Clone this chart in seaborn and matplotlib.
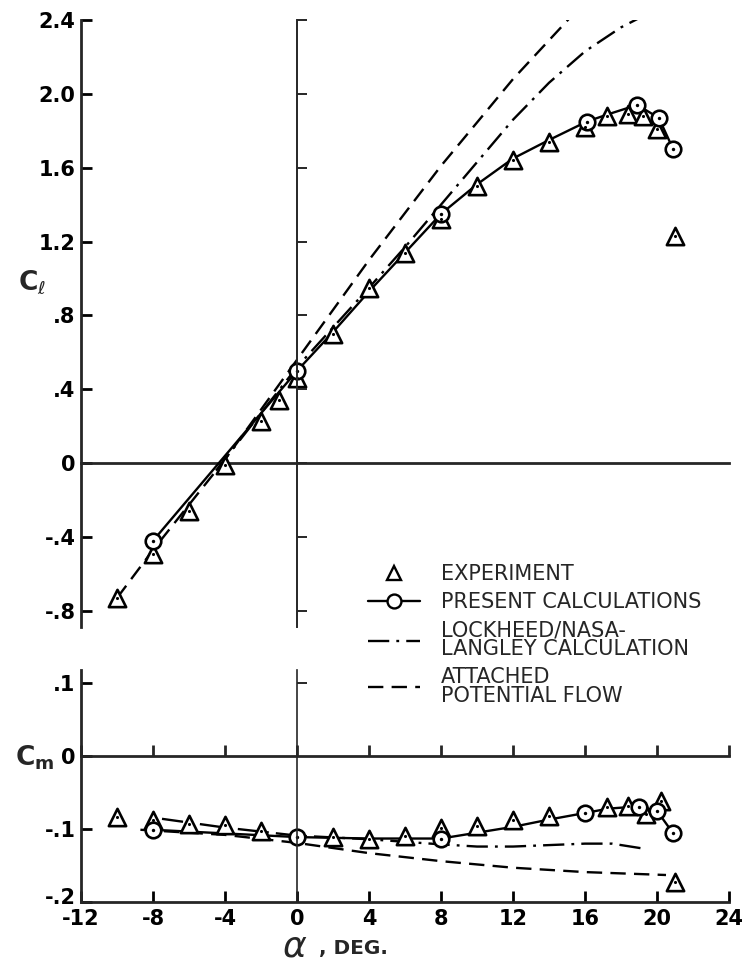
import matplotlib
matplotlib.use("Agg")
import matplotlib.pyplot as plt
import matplotlib.transforms as mtransforms
import seaborn as sns
from matplotlib.lines import Line2D

# ---------------- data ----------------
# Lift coefficient
exp_cl_alpha = [-10, -8, -6, -4, -2, -1, 0, 2, 4, 6, 8, 10, 12, 14, 16, 17.2, 18.4, 19.2, 20.0, 21.0]
exp_cl = [-0.73, -0.49, -0.26, -0.01, 0.23, 0.34, 0.46, 0.70, 0.95, 1.14, 1.32, 1.50, 1.64, 1.74, 1.82,
          1.88, 1.89, 1.88, 1.81, 1.23]

pres_cl_alpha = [-8, 0, 2, 4, 6, 8, 10, 12, 14, 16.1, 17.3, 18.9, 20.1, 20.9]
pres_cl = [-0.42, 0.50, 0.71, 0.93, 1.14, 1.35, 1.51, 1.65, 1.75, 1.85, 1.89, 1.94, 1.87, 1.70]
pres_cl_mark_alpha = [-8, 0, 8, 16.1, 18.9, 20.1, 20.9]
pres_cl_mark = [-0.42, 0.50, 1.35, 1.85, 1.94, 1.87, 1.70]

lock_cl_alpha = [-4.5, 0, 4, 6, 8, 10, 12, 14, 16, 18, 19.2]
lock_cl = [-0.04, 0.52, 0.95, 1.17, 1.40, 1.63, 1.86, 2.06, 2.23, 2.36, 2.42]

att_cl_alpha = [-10, -8, -4, 0, 4, 8, 12, 16]
att_cl = [-0.73, -0.47, 0.02, 0.56, 1.10, 1.61, 2.08, 2.50]

# Pitching-moment coefficient
exp_cm_alpha = [-10, -8, -6, -4, -2, 2, 4, 6, 8, 10, 12, 14, 17.2, 18.4, 19.4, 20.2, 21.0]
exp_cm = [-0.083, -0.087, -0.093, -0.095, -0.103, -0.111, -0.113, -0.110, -0.098, -0.096, -0.088,
          -0.082, -0.070, -0.068, -0.080, -0.061, -0.172]

pres_cm_alpha = [-8, 0, 4, 8, 10, 12, 14, 16, 17.3, 18.4, 19, 20, 20.9]
pres_cm = [-0.101, -0.111, -0.113, -0.113, -0.105, -0.097, -0.087, -0.078, -0.072, -0.070, -0.070,
           -0.075, -0.106]
pres_cm_mark_alpha = [-8, 0, 8, 16, 19, 20, 20.9]
pres_cm_mark = [-0.101, -0.111, -0.113, -0.078, -0.070, -0.075, -0.106]

lock_cm_alpha = [-7.5, -4, 0, 4, 8, 10, 12, 14, 16, 17.5, 19.3]
lock_cm = [-0.086, -0.098, -0.109, -0.114, -0.121, -0.124, -0.124, -0.122, -0.120, -0.120, -0.127]

att_cm_alpha = [-8.7, -4, 0, 4, 8, 12, 16, 20.5]
att_cm = [-0.101, -0.108, -0.119, -0.133, -0.144, -0.153, -0.159, -0.163]

# ticks / labels
x_ticks = [-12, -8, -4, 0, 4, 8, 12, 16, 20, 24]
x_ticklabels = ["-12", "-8", "-4", "0", "4", "8", "12", "16", "20", "24"]
cl_ticks = [-0.8, -0.4, 0, 0.4, 0.8, 1.2, 1.6, 2.0, 2.4]
cl_ticklabels = ["-.8", "-.4", "0", ".4", ".8", "1.2", "1.6", "2.0", "2.4"]
cm_ticks = [-0.2, -0.1, 0, 0.1]
cm_ticklabels = ["-.2", "-.1", "0", ".1"]

legend_labels = ["EXPERIMENT", "PRESENT CALCULATIONS", "LOCKHEED/NASA-\nLANGLEY CALCULATION",
                 "ATTACHED\nPOTENTIAL FLOW"]

# ---------------- style ----------------
sns.set_style("white")
plt.rcParams["font.family"] = ["DejaVu Sans"]
plt.rcParams["axes.unicode_minus"] = False

LW_AX = 2.0
LW_DATA = 1.7
DASH = (0, (6.5, 3.5))
DASHDOT = (0, (9, 3, 1.2, 3))
TICK_FONT = dict(fontsize=15, fontweight="bold")

fig = plt.figure(figsize=(7.43, 9.64), dpi=100)
W, H = 743.0, 964.0
ax1 = fig.add_axes([81 / W, 1 - 627 / H, 648 / W, 607 / H])
ax2 = fig.add_axes([81 / W, 1 - 902 / H, 648 / W, 232 / H])


def draw_curves(ax, ea, ev, pa, pv, pma, pmv, la, lv, aa, av):
    sns.lineplot(x=aa, y=av, ax=ax, color="black", lw=LW_DATA, linestyle=DASH,
                 sort=False, estimator=None, zorder=3)
    sns.lineplot(x=la, y=lv, ax=ax, color="black", lw=LW_DATA, linestyle=DASHDOT,
                 sort=False, estimator=None, zorder=3)
    sns.lineplot(x=pa, y=pv, ax=ax, color="black", lw=LW_DATA, linestyle="-",
                 sort=False, estimator=None, zorder=4)
    sns.scatterplot(x=ea, y=ev, ax=ax, marker="^", s=155, color="white",
                    edgecolor="black", linewidth=1.9, zorder=5)
    sns.scatterplot(x=pma, y=pmv, ax=ax, marker="o", s=125, color="white",
                    edgecolor="black", linewidth=1.9, zorder=6)
    sns.scatterplot(x=ea, y=ev, ax=ax, marker="o", s=5, color="black", linewidth=0, zorder=7)
    sns.scatterplot(x=pma, y=pmv, ax=ax, marker="o", s=6, color="black", linewidth=0, zorder=7)


draw_curves(ax1, exp_cl_alpha, exp_cl, pres_cl_alpha, pres_cl, pres_cl_mark_alpha, pres_cl_mark,
            lock_cl_alpha, lock_cl, att_cl_alpha, att_cl)
draw_curves(ax2, exp_cm_alpha, exp_cm, pres_cm_alpha, pres_cm, pres_cm_mark_alpha, pres_cm_mark,
            lock_cm_alpha, lock_cm, att_cm_alpha, att_cm)

# ---------------- upper axes (C_l) ----------------
ax1.set_xlim(-12, 24)
ax1.set_ylim(-0.887, 2.4)
for s in ["top", "right"]:
    ax1.spines[s].set_visible(False)
ax1.spines["left"].set_linewidth(LW_AX)
ax1.spines["bottom"].set_position(("data", 0))
ax1.spines["bottom"].set_linewidth(LW_AX)
ax1.set_xticks(x_ticks)
ax1.set_xticklabels([])
ax1.set_yticks(cl_ticks)
ax1.set_yticklabels(cl_ticklabels, **TICK_FONT)
ax1.tick_params(axis="both", direction="in", length=8, width=LW_AX, colors="black")
ax1.tick_params(axis="y", pad=4)
ax1.set_xlabel("")
ax1.set_ylabel(r"C$_{\ell}$", rotation=0, fontsize=19, fontweight="bold")
ax1.yaxis.set_label_coords(-0.075, 0.545)
ax1.grid(False)

# vertical line at alpha = 0 with ticks to the right
tw1 = ax1.twinx()
tw1.set_ylim(ax1.get_ylim())
for s in ["top", "left", "bottom"]:
    tw1.spines[s].set_visible(False)
tw1.spines["right"].set_position(("data", 0))
tw1.spines["right"].set_linewidth(1.4)
tw1.set_yticks(cl_ticks)
tw1.set_yticklabels([])
tw1.tick_params(axis="y", direction="out", length=7, width=1.4)
tw1.grid(False)

# ---------------- lower axes (C_m) ----------------
ax2.set_xlim(-12, 24)
ax2.set_ylim(-0.2, 0.118)
for s in ["top", "right"]:
    ax2.spines[s].set_visible(False)
ax2.spines["left"].set_linewidth(LW_AX)
ax2.spines["bottom"].set_linewidth(LW_AX)
ax2.set_xticks(x_ticks)
ax2.set_xticklabels(x_ticklabels, **TICK_FONT)
ax2.set_yticks(cm_ticks)
ax2.set_yticklabels(cm_ticklabels, **TICK_FONT)
ax2.tick_params(axis="both", direction="in", length=8, width=LW_AX, colors="black")
ax2.tick_params(axis="x", pad=5)
ax2.tick_params(axis="y", pad=4)
# nudge the lowest C_m label up a little so it clears the "-12" label
lowest = ax2.get_yticklabels()[0]
lowest.set_transform(lowest.get_transform()
                     + mtransforms.ScaledTranslation(0, 4 / 72, fig.dpi_scale_trans))
ax2.set_ylabel(r"C$_{\mathbf{m}}$", rotation=0, fontsize=19, fontweight="bold")
ax2.yaxis.set_label_coords(-0.072, 0.56)
ax2.set_xlabel(r"$\alpha$", fontsize=26)
ax2.xaxis.set_label_coords(0.33, -0.118)
ax2.grid(False)
ax2.annotate(", DEG.", xy=(1.0, 0.45), xycoords=ax2.xaxis.label, ha="left", va="center",
             fontsize=14.5, fontweight="bold", xytext=(8, 0), textcoords="offset points")

# zero line with upward ticks
tw2 = ax2.twiny()
tw2.set_xlim(ax2.get_xlim())
for s in ["bottom", "left", "right"]:
    tw2.spines[s].set_visible(False)
tw2.spines["top"].set_position(("data", 0))
tw2.spines["top"].set_linewidth(LW_AX)
tw2.set_xticks(x_ticks)
tw2.set_xticklabels([])
tw2.tick_params(axis="x", direction="out", length=8, width=LW_AX)
tw2.grid(False)

# vertical line at alpha = 0
tw3 = ax2.twinx()
tw3.set_ylim(ax2.get_ylim())
for s in ["top", "left", "bottom"]:
    tw3.spines[s].set_visible(False)
tw3.spines["right"].set_position(("data", 0))
tw3.spines["right"].set_linewidth(1.2)
tw3.set_yticks([0.1])
tw3.set_yticklabels([])
tw3.tick_params(axis="y", direction="out", length=7, width=1.4)
tw3.grid(False)

# ---------------- legend ----------------
handles = [
    Line2D([], [], linestyle="none", marker="^", markersize=10, mfc="white", mec="black", mew=1.7),
    Line2D([], [], color="black", lw=LW_DATA, marker="o", markersize=10, mfc="white",
           mec="black", mew=1.7),
    Line2D([], [], color="black", lw=LW_DATA, linestyle=DASHDOT),
    Line2D([], [], color="black", lw=LW_DATA, linestyle=DASH),
]
leg = fig.legend(handles, legend_labels, loc="upper left",
                 bbox_to_anchor=(368 / W, 1 - 564 / H), frameon=False, borderpad=0,
                 borderaxespad=0, handlelength=2.5, handletextpad=1.0, labelspacing=0.40,
                 prop={"size": 15})
for t in leg.get_texts():
    t.set_linespacing(0.9)

fig.savefig("out.png", dpi=100)
